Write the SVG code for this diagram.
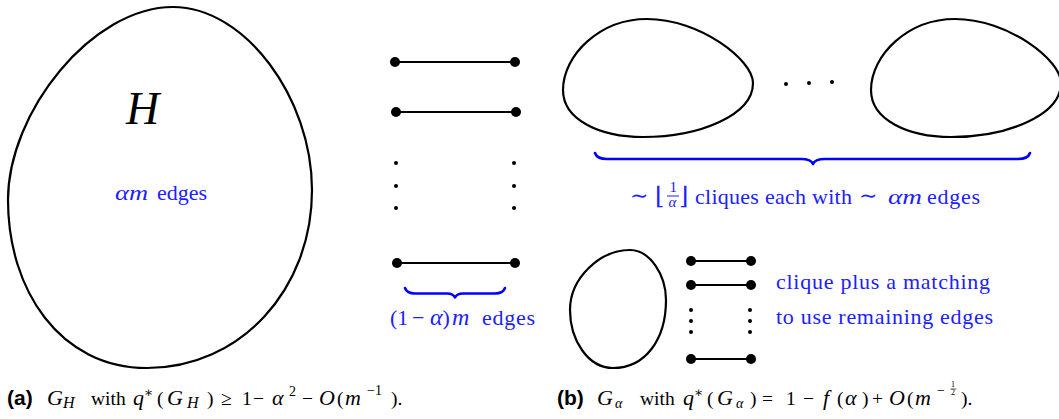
<svg xmlns="http://www.w3.org/2000/svg" width="1059" height="419" viewBox="0 0 1059 419">
<style>
.blob{fill:none;stroke:#000;stroke-width:2.2}
.edge{stroke:#000;stroke-width:2}
.nd{fill:#000}
.brace{fill:none;stroke:#0000ff;stroke-width:2.6;stroke-linejoin:round;stroke-linecap:round}
.bl{fill:#2020ff;font-size:22px}
.it{font-style:italic}
.cap{fill:#000;font-size:19.5px}
.mi{font-style:italic;font-size:22px}
.sm{font-size:14px}
.tiny{font-size:8px}
</style>
<rect width="1059" height="419" fill="#fff"/>

<g font-family="Liberation Serif, DejaVu Serif, serif">
<g id="nodeH">
<path class="blob" d="M173,7 C245,7 312,98 312,190 C312,290 240,368 147,368 C60,368 8,290 8,200 C8,112 92,7 173,7 Z"/>
<text x="126" y="124" font-style="italic" font-size="46">H</text>
<text class="bl it" x="115" y="200" textLength="33" lengthAdjust="spacingAndGlyphs">αm</text>
<text class="bl" x="157" y="200" textLength="50">edges</text>
</g>

<g id="matching">
<line class="edge" x1="395" y1="62" x2="515" y2="62"/>
<line class="edge" x1="395" y1="112" x2="515" y2="112"/>
<line class="edge" x1="396" y1="263" x2="515" y2="263"/>
<circle class="nd" cx="395" cy="62" r="5"/><circle class="nd" cx="515" cy="62" r="5"/>
<circle class="nd" cx="396" cy="112" r="5"/><circle class="nd" cx="516" cy="112" r="5"/>
<circle class="nd" cx="397" cy="263" r="5"/><circle class="nd" cx="515" cy="263" r="5"/>
<circle class="nd" cx="396" cy="163" r="2"/><circle class="nd" cx="396" cy="186" r="2"/><circle class="nd" cx="396" cy="208" r="2"/>
<circle class="nd" cx="514" cy="163" r="2"/><circle class="nd" cx="514" cy="186" r="2"/><circle class="nd" cx="514" cy="208" r="2"/>
<path class="brace" d="M405,288 Q407,293.5 415,293.5 L447,293.5 Q453,293.5 455,297.5 Q457,293.5 463,293.5 L495,293.5 Q503,293.5 505,288"/>
<text class="bl" y="325"><tspan x="390">(1</tspan><tspan x="412">−</tspan><tspan class="it" x="430" font-size="24">α</tspan><tspan>)</tspan><tspan class="it" x="452" font-size="24">m</tspan><tspan x="482" textLength="53">edges</tspan></text>
</g>

<g id="cliques">
<path class="blob" d="M647,19 C700,19 753,60 753,83 C753,115 700,137 643,137 C600,137 563,120 563,90 C563,55 600,19 647,19 Z"/>
<path class="blob" d="M955,19 C1008,19 1061,60 1061,83 C1061,115 1008,137 951,137 C908,137 871,120 871,90 C871,55 908,19 955,19 Z"/>
<circle class="nd" cx="786" cy="84" r="2"/><circle class="nd" cx="809" cy="83" r="2"/><circle class="nd" cx="832" cy="82" r="2"/>
<path class="brace" d="M595,153 Q597,159 607,159 L801,159 Q811,159 813,164 Q815,159 825,159 L1018,159 Q1028,159 1030,153"/>
<text class="bl"><tspan x="630" y="203">∼</tspan><tspan x="655" y="204" font-size="24">⌊</tspan><tspan x="669.5" y="192" font-size="15">1</tspan><tspan class="it" x="668.5" y="207" font-size="15">α</tspan><tspan x="679" y="204" font-size="24">⌋</tspan></text>
<line x1="667" y1="196" x2="679" y2="196" stroke="#2020ff" stroke-width="1"/>
<text class="bl" x="695" y="204" textLength="157">cliques each with</text>
<text class="bl" x="859" y="203">∼</text>
<text class="bl it" x="888" y="204" textLength="34" lengthAdjust="spacingAndGlyphs">αm</text>
<text class="bl" x="927" y="204" textLength="53">edges</text>
</g>

<g id="cliqueMatching">
<path class="blob" d="M630,250 C650,250 666,275 666,300 C666,340 645,368 613,368 C588,368 570,340 570,310 C570,278 600,250 630,250 Z"/>
<line class="edge" x1="691" y1="261" x2="751" y2="261"/>
<line class="edge" x1="691" y1="285" x2="751" y2="285"/>
<line class="edge" x1="691" y1="359" x2="751" y2="359"/>
<circle class="nd" cx="691" cy="261" r="5"/><circle class="nd" cx="751" cy="261" r="5"/>
<circle class="nd" cx="691" cy="285" r="5"/><circle class="nd" cx="751" cy="285" r="5"/>
<circle class="nd" cx="691" cy="359" r="5"/><circle class="nd" cx="751" cy="359" r="5"/>
<circle class="nd" cx="691" cy="310" r="2"/><circle class="nd" cx="691" cy="321" r="2"/><circle class="nd" cx="691" cy="332" r="2"/>
<circle class="nd" cx="750" cy="310" r="2"/><circle class="nd" cx="750" cy="321" r="2"/><circle class="nd" cx="750" cy="332" r="2"/>
<text class="bl" x="776" y="289" textLength="214">clique plus a matching</text>
<text class="bl" x="776" y="324" textLength="217">to use remaining edges</text>
</g>

<g id="captionA">
<text x="7" y="405" font-family="Liberation Sans, DejaVu Sans, sans-serif" font-weight="bold" font-size="21">(a)</text>
<text class="cap" y="405"><tspan class="mi" x="47">G</tspan><tspan class="it" font-size="16" x="63" y="408">H</tspan><tspan x="91" y="405">with</tspan><tspan class="mi" x="133">q</tspan><tspan class="sm" x="144" y="397">∗</tspan><tspan x="157" y="405">(</tspan><tspan class="mi" x="167">G</tspan><tspan class="it" font-size="16" x="187" y="408">H</tspan><tspan x="207" y="405">)</tspan><tspan x="221">≥</tspan><tspan x="242">1</tspan><tspan x="253">−</tspan><tspan class="mi" x="272">α</tspan><tspan class="sm" x="289" y="396">2</tspan><tspan x="302" y="405">−</tspan><tspan class="mi" x="319">O</tspan><tspan x="337">(</tspan><tspan class="mi" x="345">m</tspan><tspan class="sm" x="367" y="395">−1</tspan><tspan x="391" y="405">).</tspan></text>
</g>

<g id="captionB">
<text x="557" y="405" font-family="Liberation Sans, DejaVu Sans, sans-serif" font-weight="bold" font-size="21">(b)</text>
<text class="cap" y="405"><tspan class="mi" x="597">G</tspan><tspan class="it sm" x="615" y="408">α</tspan><tspan x="640" y="405">with</tspan><tspan class="mi" x="683">q</tspan><tspan class="sm" x="694" y="397">∗</tspan><tspan x="707" y="405">(</tspan><tspan class="mi" x="717">G</tspan><tspan class="it sm" x="736" y="408">α</tspan><tspan x="750" y="405">)</tspan><tspan x="762">=</tspan><tspan x="786">1</tspan><tspan x="803">−</tspan><tspan class="mi" x="823">f</tspan><tspan x="837">(</tspan><tspan class="mi" x="845">α</tspan><tspan x="862">)</tspan><tspan x="872">+</tspan><tspan class="mi" x="889">O</tspan><tspan x="907">(</tspan><tspan class="mi" x="915">m</tspan><tspan class="sm" x="937" y="395">−</tspan><tspan class="tiny" x="951" y="387">1</tspan><tspan class="tiny" x="951" y="395">2</tspan><tspan x="961" y="405">).</tspan></text>
<line x1="950.5" y1="389" x2="956.5" y2="389" stroke="#000" stroke-width="0.6"/>
</g>
</g>
</svg>
